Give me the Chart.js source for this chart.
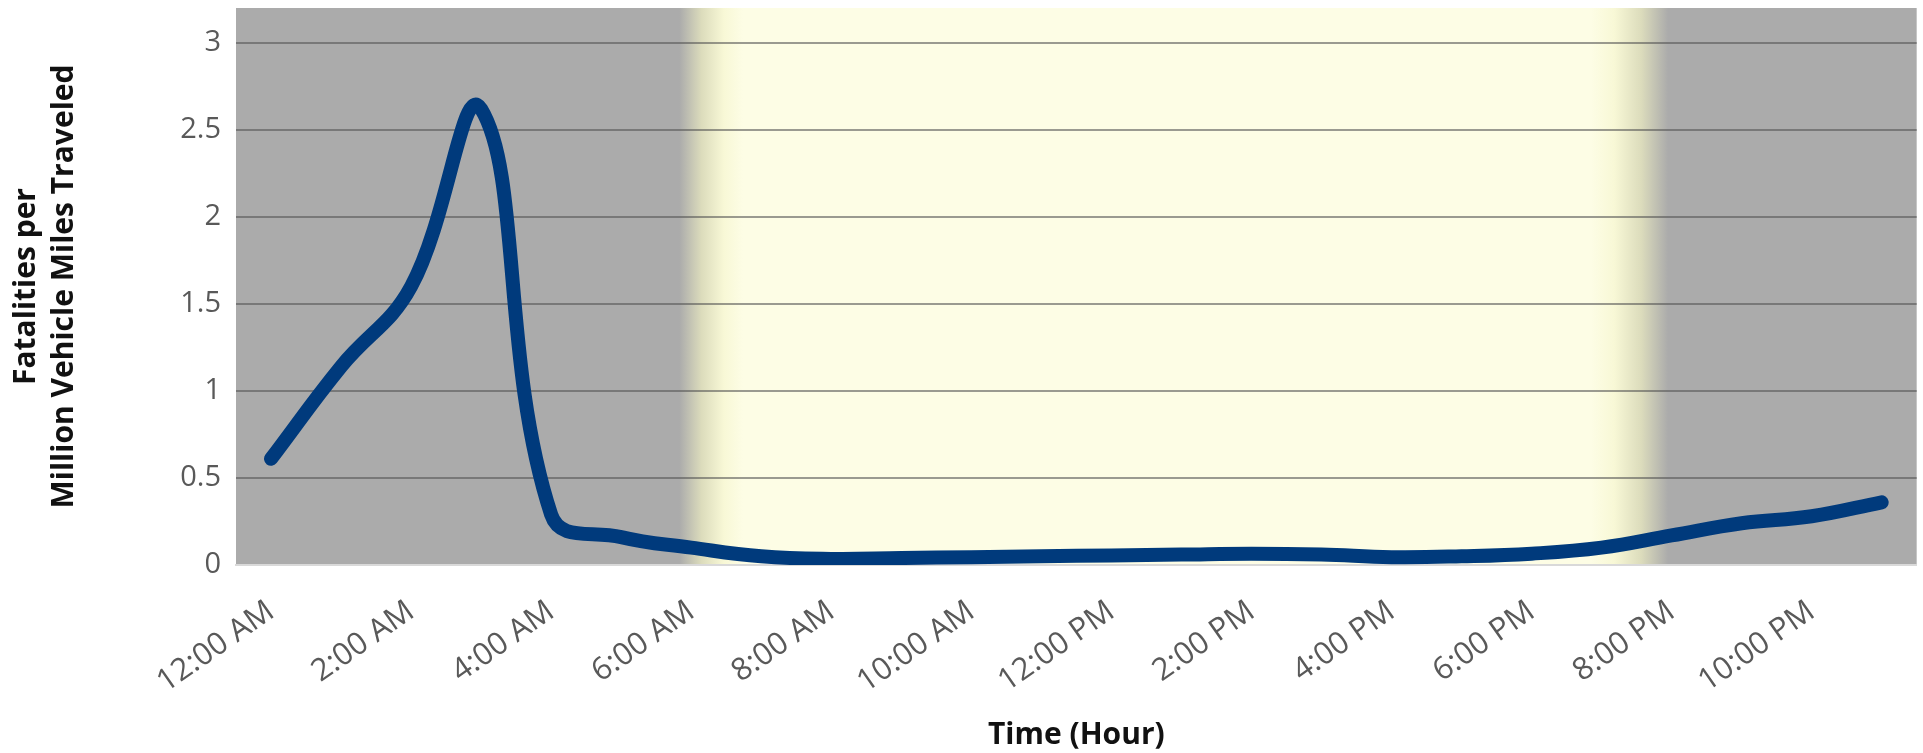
<!DOCTYPE html>
<html>
<head>
<meta charset="utf-8">
<script src="https://cdn.jsdelivr.net/npm/chart.js@4.4.1/dist/chart.umd.min.js"></script>
<style>
  html, body { margin: 0; padding: 0; background: #fff; }
  #wrap { width: 1923px; height: 753px; }
</style>
</head>
<body>
<div id="wrap"><canvas id="myChart" width="1923" height="753"></canvas></div>
<script>
const hours = ['12:00 AM', '1:00 AM', '2:00 AM', '3:00 AM', '4:00 AM', '5:00 AM', '6:00 AM', '7:00 AM',
  '8:00 AM', '9:00 AM', '10:00 AM', '11:00 AM', '12:00 PM', '1:00 PM', '2:00 PM', '3:00 PM',
  '4:00 PM', '5:00 PM', '6:00 PM', '7:00 PM', '8:00 PM', '9:00 PM', '10:00 PM', '11:00 PM'];
const fatalityRates = [0.61, 1.14, 1.6, 2.62, 0.29, 0.16, 0.1, 0.05, 0.035, 0.04, 0.045, 0.05,
  0.055, 0.06, 0.065, 0.06, 0.045, 0.05, 0.065, 0.10, 0.17, 0.24, 0.28, 0.36];
const yTicks = [0, 0.5, 1, 1.5, 2, 2.5, 3];
// daylight band, in hour index units (fade in / fade out)
const dawn = [5.83, 6.74];
const dusk = [18.85, 19.95];

const daylight = {
  id: 'daylight',
  beforeDraw(chart) {
    const { ctx, chartArea: a, scales: { x } } = chart;
    const h = a.bottom - a.top;
    ctx.save();
    ctx.fillStyle = '#ababab';
    ctx.fillRect(a.left, a.top, a.right - a.left, h);
    const d0 = x.getPixelForValue(dawn[0]), d1 = x.getPixelForValue(dawn[1]);
    const s0 = x.getPixelForValue(dusk[0]), s1 = x.getPixelForValue(dusk[1]);
    ctx.fillStyle = '#fdfde5';
    ctx.fillRect(d1 - 2, a.top, s0 - d1 + 4, h);
    let g = ctx.createLinearGradient(d0, 0, d1, 0);
    g.addColorStop(0, '#ababab');
    g.addColorStop(0.35, '#dcdcbc');
    g.addColorStop(0.7, '#f8f8d6');
    g.addColorStop(1, '#fdfde5');
    ctx.fillStyle = g;
    ctx.fillRect(d0, a.top, d1 - d0, h);
    g = ctx.createLinearGradient(s0, 0, s1, 0);
    g.addColorStop(0, '#fdfde5');
    g.addColorStop(0.3, '#f8f8d6');
    g.addColorStop(0.65, '#dcdcbc');
    g.addColorStop(1, '#ababab');
    ctx.fillStyle = g;
    ctx.fillRect(s0, a.top, s1 - s0, h);
    ctx.restore();
  }
};

new Chart('myChart', {
  type: 'line',
  data: {
    labels: hours,
    datasets: [{
      data: fatalityRates,
      borderColor: '#003a7c',
      borderWidth: 14,
      borderCapStyle: 'round',
      borderJoinStyle: 'round',
      tension: 0.42,
      pointRadius: 0,
      fill: false
    }]
  },
  options: {
    responsive: false,
    animation: false,
    layout: { padding: { top: 8, right: 0, left: 0, bottom: 0 } },
    plugins: { legend: { display: false }, tooltip: { enabled: false } },
    scales: {
      x: {
        offset: true,
        grid: { display: false },
        border: { display: true, color: '#d9d9d9', width: 2 },
        ticks: {
          autoSkip: false,
          minRotation: 35,
          maxRotation: 35,
          padding: 20,
          color: '#595959',
          font: { family: 'Open Sans', size: 31 },
          callback: (v, i) => (i % 2 === 0 ? hours[i] : '')
        },
        title: {
          display: true,
          text: 'Time (Hour)',
          color: '#111',
          font: { family: 'Open Sans', size: 30, weight: 'bold' },
          padding: { top: 0, bottom: 0 }
        },
        afterFit: s => { s.height = 188; }
      },
      y: {
        min: 0,
        max: 3.2,
        afterBuildTicks: s => { s.ticks = yTicks.map(v => ({ value: v })); },
        grid: {
          color: c => (c.tick && c.tick.value === 0 ? 'rgba(0,0,0,0)' : 'rgba(83,83,83,0.58)'),
          lineWidth: 2,
          drawTicks: false
        },
        border: { display: false },
        ticks: {
          padding: 15,
          color: '#595959',
          font: { family: 'Open Sans', size: 29 },
          callback: v => String(v)
        },
        title: {
          display: true,
          text: ['Fatalities per', 'Million Vehicle Miles Traveled'],
          color: '#111',
          font: { family: 'Open Sans', size: 30, weight: 'bold', lineHeight: 1.25 },
          padding: { top: 8, bottom: 0 }
        },
        afterFit: s => { s.width = 236; s.paddingTop = 0; s.paddingBottom = 0; }
      }
    }
  },
  plugins: [daylight]
});
</script>
</body>
</html>
